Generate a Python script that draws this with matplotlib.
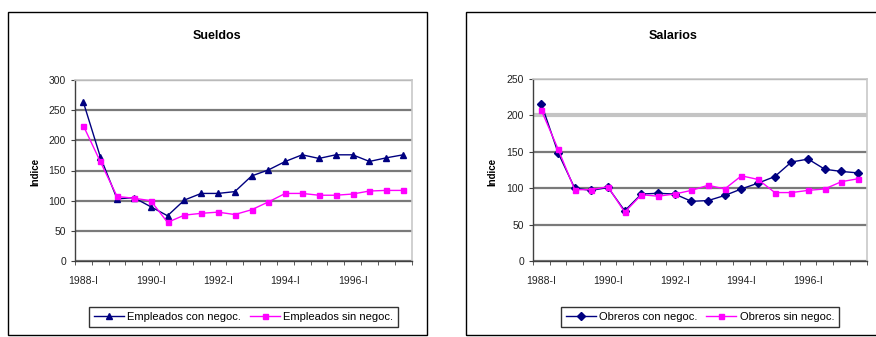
import matplotlib
matplotlib.use("Agg")
import matplotlib.pyplot as plt
from matplotlib.patches import Rectangle
import numpy as np

plt.rcParams['font.family'] = ['Liberation Sans', 'DejaVu Sans']

# semestres 1988-I .. 1997-II
periodos = ['1988-I', '1988-II', '1989-I', '1989-II', '1990-I', '1990-II',
            '1991-I', '1991-II', '1992-I', '1992-II', '1993-I', '1993-II',
            '1994-I', '1994-II', '1995-I', '1995-II', '1996-I', '1996-II',
            '1997-I', '1997-II']
etiquetas = ['1988-I', '1990-I', '1992-I', '1994-I', '1996-I']

# Sueldos
emp_con = [263, 173, 103, 105, 90, 75, 101, 112, 112, 115,
           141, 151, 165, 176, 170, 176, 176, 165, 171, 176]
emp_sin = [224, 165, 107, 104, 100, 64, 76, 79, 81, 77,
           85, 98, 112, 112, 109, 109, 111, 116, 117, 117]

# Salarios
obr_con = [216, 149, 100, 97, 101, 69, 92, 93, 92, 82,
           83, 90, 99, 107, 116, 136, 140, 126, 123, 121]
obr_sin = [207, 154, 98, 98, 102, 67, 91, 89, 92, 97,
           104, 99, 117, 112, 94, 94, 97, 99, 109, 113]

AZUL = '#000080'
ROSA = '#FF00FF'
W, H = 876, 337


def px(x, y):
    return x / W, 1 - y / H


def panel(fig, rect, con, sin, mk, ymax, titulo, tx, lab_con, lab_sin, legx, ylx):
    ax = fig.add_axes(rect)
    x = np.arange(len(periodos))
    l1, = ax.plot(x, con, color=AZUL, lw=1, marker=mk, ms=4, label=lab_con)
    l2, = ax.plot(x, sin, color=ROSA, lw=1, marker='s', ms=3.6, label=lab_sin)
    ax.set_xlim(-0.5, len(periodos) - 0.5)
    ax.set_ylim(0, ymax)
    ax.set_yticks(np.arange(0, ymax + 1, 50))
    ax.set_xticks([periodos.index(e) for e in etiquetas])
    ax.set_xticklabels(etiquetas)
    ax.set_xticks(np.arange(-0.5, len(periodos)), minor=True)
    ax.tick_params(axis='x', which='major', length=0, pad=11, labelsize=7.5, colors='#222222')
    ax.tick_params(axis='x', which='minor', length=3, direction='out', color='#404040')
    ax.tick_params(axis='y', length=3, direction='out', labelsize=7.5, color='#404040',
                   labelcolor='#222222')
    ax.yaxis.grid(True, color='#7a7a7a', lw=1.6)
    ax.set_axisbelow(True)
    for s in ('left', 'bottom'):
        ax.spines[s].set_color('#404040')
        ax.spines[s].set_linewidth(1)
    for s in ('top', 'right'):
        ax.spines[s].set_color('#c8c8c8')
        ax.spines[s].set_linewidth(1.2)
    fig.text(*px(tx, 36), titulo, ha='center', va='center', fontsize=9, fontweight='bold')
    fig.text(*px(ylx, 172), 'Indice', rotation=90, ha='center', va='center',
             fontsize=7, fontweight='bold')
    leg = fig.legend(handles=[l1, l2], loc='center', bbox_to_anchor=px(legx, 317),
                     ncol=2, fontsize=8, frameon=True, fancybox=False,
                     handlelength=2.7, columnspacing=0.8, handletextpad=0.3,
                     borderpad=0.45, edgecolor='black')
    leg.get_frame().set_linewidth(1)
    return ax


fig = plt.figure(figsize=(W / 100, H / 100), dpi=100)

# marcos de cada grafico
fig.add_artist(Rectangle(px(8, 335), 419 / W, 323 / H, transform=fig.transFigure,
                         fill=False, ec='black', lw=1))
fig.add_artist(Rectangle(px(466, 335), 420 / W, 323 / H, transform=fig.transFigure,
                         fill=False, ec='black', lw=1))

panel(fig, [75 / W, 1 - 261 / H, 336.5 / W, 181 / H], emp_con, emp_sin, '^', 300,
      'Sueldos', 217, 'Empleados con negoc.', 'Empleados sin negoc.', 243.5, 35)
ax2 = panel(fig, [533 / W, 1 - 261 / H, 333.5 / W, 182 / H], obr_con, obr_sin, 'D', 250,
            'Salarios', 673, 'Obreros con negoc.', 'Obreros sin negoc.', 700, 492)
# la linea de 200 sale mas clara y gruesa
g = ax2.get_ygridlines()[4]
g.set_color('#c4c4c4')
g.set_linewidth(3)

fig.savefig('out.png', dpi=100)
